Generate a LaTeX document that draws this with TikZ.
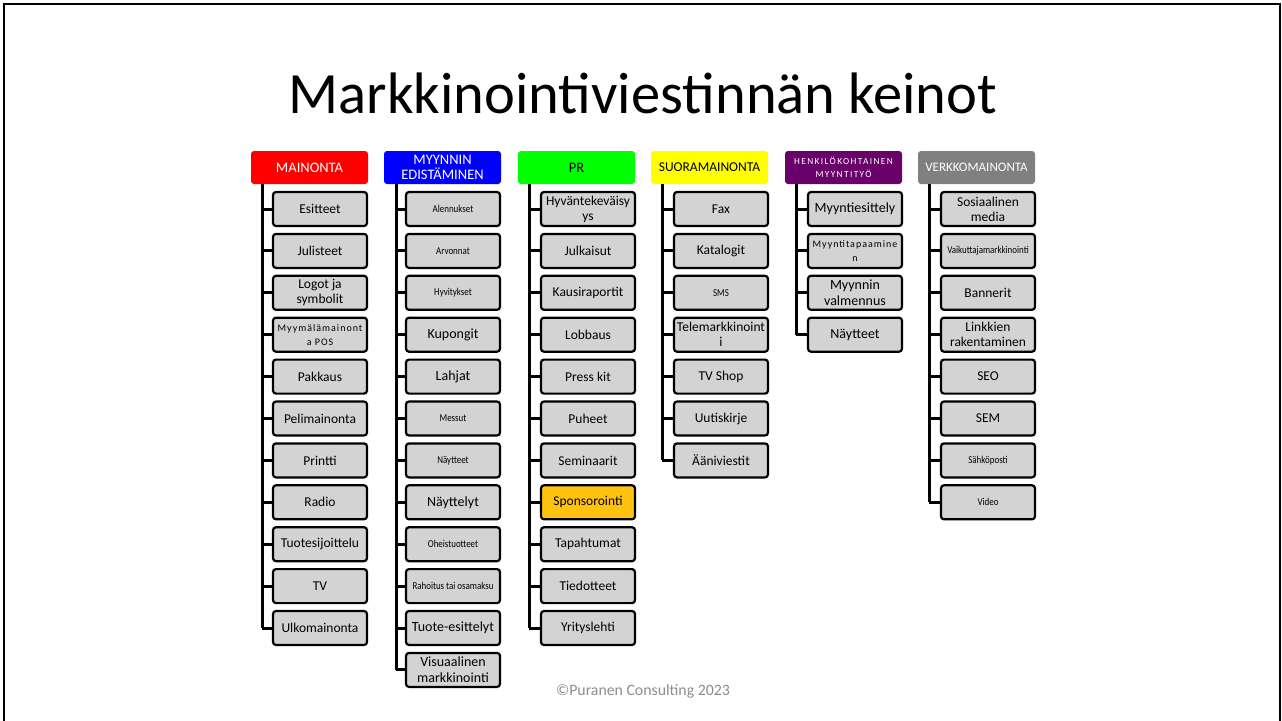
\documentclass[tikz,border=0pt]{standalone}
\usepackage{fontspec}
\setmainfont{Carlito}
\definecolor{boxgray}{HTML}{D3D3D3}
\definecolor{hdrred}{HTML}{FF0000}
\definecolor{hdrblue}{HTML}{0000FF}
\definecolor{hdrgreen}{HTML}{00FF00}
\definecolor{hdryellow}{HTML}{FFFF00}
\definecolor{hdrpurple}{HTML}{6A006A}
\definecolor{hdrgray}{HTML}{808080}
\definecolor{sponsor}{HTML}{FFC20E}
\definecolor{copygray}{HTML}{8C8C8C}

\begin{document}
\begin{tikzpicture}[x=1pt, y=-1pt,
    hdr/.style={rounded corners=3, minimum width=117, minimum height=33, inner sep=1, align=center, font=\fontsize{14.5}{15}\selectfont},
    item/.style={draw, fill=boxgray, rounded corners=3, line width=2.2, minimum width=94, minimum height=34, inner sep=1, align=center, font=\fontsize{13.5}{15}\selectfont},
    big/.style={font=\fontsize{14}{16}\selectfont},
    tiny/.style={font=\fontsize{10.5}{12}\selectfont\addfontfeature{FakeStretch=0.85}},
    spaced/.style={font=\fontsize{10}{14}\selectfont\addfontfeature{LetterSpace=10}},
    sponsored/.style={fill=sponsor},
    spine/.style={line width=3}]

    \useasboundingbox (0,0) rectangle (1282,720);
    \draw[line width=2.5] (4,4) rectangle (1280,740);

    \node[font=\fontsize{58.5}{62}\selectfont] (title) at (643,93) {Markkinointiviestinnän keinot};

    % otsikot
    \node[hdr, fill=hdrred, text=white] (h1) at (309.5,167.5) {MAINONTA};
    \node[hdr, fill=hdrblue, text=white] (h2) at (442.5,167.5) {MYYNNIN\\EDISTÄMINEN};
    \node[hdr, fill=hdrgreen] (h3) at (576.5,167.5) {PR};
    \node[hdr, fill=hdryellow, font=\fontsize{13.5}{15}\selectfont] (h4) at (709.5,167.5) {SUORAMAINONTA};
    \node[hdr, fill=hdrpurple, text=white, font=\fontsize{9.3}{13}\selectfont\addfontfeature{LetterSpace=15}] (h5) at (843.5,167.5) {HENKILÖKOHTAINEN\\MYYNTITYÖ};
    \node[hdr, fill=hdrgray, text=white, font=\fontsize{13}{15}\selectfont] (h6) at (976.5,167.5) {VERKKOMAINONTA};

    \coordinate (s1) at (262,184);
    \coordinate (s2) at (396,184);
    \coordinate (s3) at (529,184);
    \coordinate (s4) at (662,184);
    \coordinate (s5) at (796,184);
    \coordinate (s6) at (929,184);

    % mainonta
    \foreach \t/\s [count=\i] in {Esitteet/, Julisteet/, {Logot ja\\symbolit}/, {Myymälämainont\\a POS}/spaced,
        Pakkaus/, Pelimainonta/, Printti/, Radio/, Tuotesijoittelu/, TV/, Ulkomainonta/} {
        \node[item, \s] (a\i) at (320,{209+41.9*(\i-1)}) {\t};
        \draw[spine] (a\i.west) -- (s1 |- a\i.west);
    }
    \draw[spine] (s1) -- (s1 |- a11.west);

    % myynnin edistäminen
    \foreach \t/\s [count=\i] in {Alennukset/tiny, Arvonnat/tiny, Hyvitykset/tiny, Kupongit/big, Lahjat/big,
        Messut/tiny, Näytteet/tiny, Näyttelyt/big, Oheistuotteet/tiny, {Rahoitus tai osamaksu}/tiny,
        Tuote-esittelyt/big, {Visuaalinen\\markkinointi}/big} {
        \node[item, \s] (b\i) at (453,{209+41.9*(\i-1)}) {\t};
        \draw[spine] (b\i.west) -- (s2 |- b\i.west);
    }
    \draw[spine] (s2) -- (s2 |- b12.west);

    % pr
    \foreach \t/\s [count=\i] in {{Hyväntekeväisy\\ys}/, Julkaisut/, Kausiraportit/, Lobbaus/, {Press kit}/,
        Puheet/, Seminaarit/, Sponsorointi/sponsored, Tapahtumat/, Tiedotteet/, Yrityslehti/} {
        \node[item, \s] (c\i) at (588,{209+41.9*(\i-1)}) {\t};
        \draw[spine] (c\i.west) -- (s3 |- c\i.west);
    }
    \draw[spine] (s3) -- (s3 |- c11.west);

    % suoramainonta
    \foreach \t/\s [count=\i] in {Fax/, Katalogit/, SMS/tiny, {Telemarkkinoint\\i}/, {TV Shop}/,
        Uutiskirje/, Ääniviestit/} {
        \node[item, \s] (d\i) at (721,{209+41.9*(\i-1)}) {\t};
        \draw[spine] (d\i.west) -- (s4 |- d\i.west);
    }
    \draw[spine] (s4) -- (s4 |- d7.west);

    % henkilökohtainen myyntityö
    \foreach \t/\s [count=\i] in {Myyntiesittely/big, {Myyntitapaamine\\n}/spaced, {Myynnin\\valmennus}/big, Näytteet/big} {
        \node[item, \s] (e\i) at (855,{209+41.9*(\i-1)}) {\t};
        \draw[spine] (e\i.west) -- (s5 |- e\i.west);
    }
    \draw[spine] (s5) -- (s5 |- e4.west);

    % verkkomainonta
    \foreach \t/\s [count=\i] in {{Sosiaalinen\\media}/, Vaikuttajamarkkinointi/tiny, Bannerit/, {Linkkien\\rakentaminen}/,
        SEO/, SEM/, Sähköposti/tiny, Video/tiny} {
        \node[item, \s] (f\i) at (988,{209+41.9*(\i-1)}) {\t};
        \draw[spine] (f\i.west) -- (s6 |- f\i.west);
    }
    \draw[spine] (s6) -- (s6 |- f8.west);

    \node[text=copygray, font=\fontsize{15.8}{17}\selectfont] (copy) at (643,691) {©Puranen Consulting 2023};
\end{tikzpicture}
\end{document}
